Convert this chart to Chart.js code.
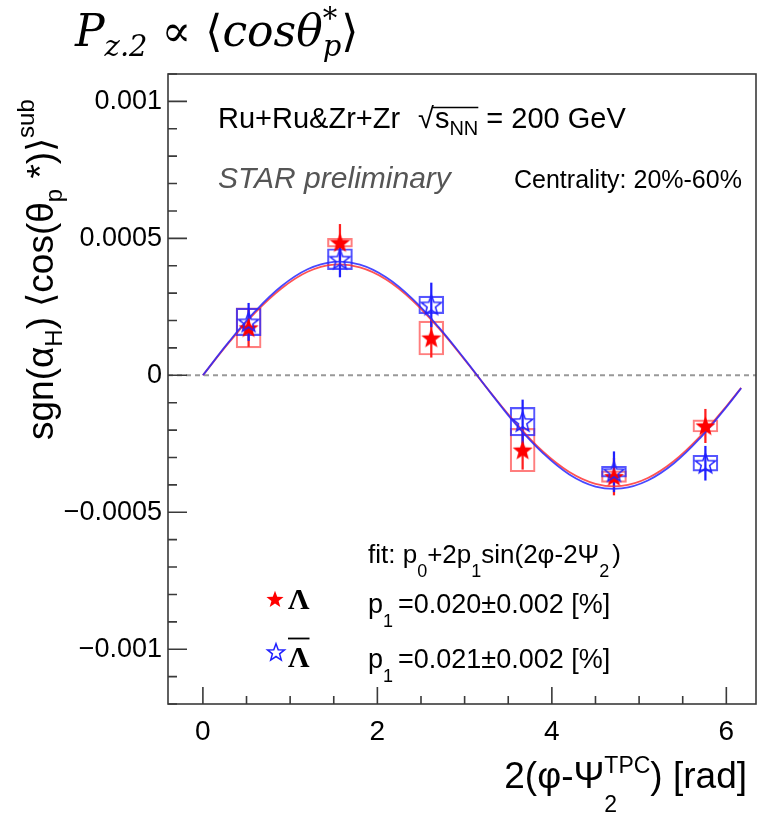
<!DOCTYPE html>
<html>
<head>
<meta charset="utf-8">
<script src="https://cdn.jsdelivr.net/npm/chart.js@4.4.1/dist/chart.umd.min.js"></script>
<style>
  html, body { margin: 0; padding: 0; background: #fff; }
  canvas { display: block; }
</style>
</head>
<body>
<canvas id="polChart" width="761" height="818"></canvas>
<script>
// bin centres, 2(phi - Psi2^TPC) [rad]
const binX = [0.524, 1.571, 2.618, 3.665, 4.712, 5.760];

// Lambda (red filled stars)
const lamY    = [0.000173, 0.000484, 0.000136, -0.000273, -0.000370, -0.000185];
const lamStat = [0.000068, 0.000067, 0.000070, 0.000070, 0.000067, 0.000061];
const lamSys  = [0.000073, 0.000016, 0.000062, 0.000079, 0.000021, 0.000022];

// anti-Lambda (blue open stars)
const alamY    = [0.000195, 0.000424, 0.000257, -0.000169, -0.000352, -0.000321];
const alamStat = [0.000068, 0.000065, 0.000080, 0.000079, 0.000073, 0.000062];
const alamSys  = [0.000050, 0.000038, 0.000032, 0.000052, 0.000020, 0.000029];

// fit curves
const fitX    = [0, 0.3, 0.6, 0.9, 1.2, 1.5, 1.8, 2.1, 2.4, 2.7, 3.0, 3.3, 3.6, 3.9, 4.2, 4.5, 4.8, 5.1, 5.4, 5.7, 6.0, 6.17];
const lamFit  = [0, 0.000120, 0.000229, 0.000317, 0.000378, 0.000404, 0.000394, 0.000350, 0.000274, 0.000173, 0.000057,
                 -0.000064, -0.000179, -0.000279, -0.000353, -0.000396, -0.000404, -0.000375, -0.000313, -0.000223, -0.000113, -0.000046];
const alamFit = [0, 0.000123, 0.000234, 0.000325, 0.000387, 0.000414, 0.000404, 0.000358, 0.000280, 0.000177, 0.000059,
                 -0.000065, -0.000184, -0.000285, -0.000362, -0.000406, -0.000413, -0.000384, -0.000321, -0.000229, -0.000116, -0.000047];

// axis ticks
const xTicks = [0, 2, 4, 6];
const yTicks = [-0.001, -0.0005, 0, 0.0005, 0.001];

const SANS = '"Liberation Sans", Arial, sans-serif';
const SERIF = '"Liberation Serif", "Times New Roman", serif';
const MATH = '"DejaVu Serif", serif';

function starImage(fill, stroke, r) {
  const c = document.createElement('canvas');
  c.width = c.height = Math.ceil(r * 2 + 4);
  const g = c.getContext('2d');
  const cx = c.width / 2, cy = c.height / 2 + r * 0.08;
  g.beginPath();
  for (let k = 0; k < 10; k++) {
    const rad = k % 2 ? r * 0.42 : r;
    const a = -Math.PI / 2 + k * Math.PI / 5;
    g.lineTo(cx + rad * Math.cos(a), cy + rad * Math.sin(a));
  }
  g.closePath();
  if (fill) { g.fillStyle = fill; g.fill(); }
  if (stroke) { g.strokeStyle = stroke; g.lineWidth = 1.5; g.stroke(); }
  return c;
}
const redStar = starImage('#ff0000', null, 10.5);
const blueStar = starImage(null, '#2020ff', 10.5);
const redStarSmall = starImage('#ff0000', null, 9);
const blueStarSmall = starImage(null, '#2020ff', 9);

function pts(xs, ys) { return xs.map((x, i) => ({ x: x, y: ys[i] })); }
function range(xs, ys, es) { return xs.map((x, i) => ({ x: x, y: [ys[i] - es[i], ys[i] + es[i]] })); }

// rich text: segments drawn one after another, "keep" stacks the next segment on top
function fontOf(s) { return (s.italic ? 'italic ' : '') + (s.bold ? 'bold ' : '') + s.size + 'px ' + (s.family || SANS); }
function richWidth(ctx, segs) {
  let w = 0, held = 0;
  segs.forEach(s => {
    ctx.font = fontOf(s);
    const sw = ctx.measureText(s.t).width + (s.gap || 0);
    if (s.keep) { held = sw; return; }
    w += Math.max(sw, held); held = 0;
  });
  return w;
}
function drawRich(ctx, segs, x, y, align) {
  if (align === 'right') x -= richWidth(ctx, segs);
  if (align === 'center') x -= richWidth(ctx, segs) / 2;
  let held = 0;
  ctx.textAlign = 'left';
  ctx.textBaseline = 'alphabetic';
  segs.forEach(s => {
    ctx.font = fontOf(s);
    ctx.fillStyle = s.color || '#000';
    ctx.fillText(s.t, x, y + (s.dy || 0));
    const sw = ctx.measureText(s.t).width + (s.gap || 0);
    if (s.keep) { held = sw; return; }
    x += Math.max(sw, held); held = 0;
  });
  return x;
}

const decor = {
  id: 'decor',
  beforeDatasetsDraw(chart) {
    const { ctx, chartArea: a, scales: { y } } = chart;
    const y0 = y.getPixelForValue(0);
    ctx.save();
    ctx.strokeStyle = '#999';
    ctx.lineWidth = 2;
    ctx.setLineDash([5, 4]);
    ctx.beginPath();
    ctx.moveTo(a.left, y0);
    ctx.lineTo(a.right, y0);
    ctx.stroke();
    ctx.restore();
  },
  afterDatasetsDraw(chart) {
    const { ctx, chartArea: a, scales: { x, y } } = chart;
    ctx.save();
    ctx.strokeStyle = '#3a3a3a';
    ctx.lineWidth = 1.6;
    ctx.strokeRect(a.left, a.top, a.right - a.left, a.bottom - a.top);
    ctx.beginPath();
    // x ticks: major every 2, minor every 0.5
    for (let v = 0; v <= x.max; v += 0.5) {
      const px = x.getPixelForValue(v);
      const len = xTicks.includes(v) ? 17 : 8;
      ctx.moveTo(px, a.bottom);
      ctx.lineTo(px, a.bottom - len);
    }
    // y ticks: major every 0.0005, minor every 0.0001
    for (let k = -12; k <= 11; k++) {
      const py = y.getPixelForValue(k * 0.0001);
      const len = k % 5 === 0 ? 19 : 9;
      ctx.moveTo(a.left, py);
      ctx.lineTo(a.left + len, py);
    }
    ctx.stroke();
    ctx.restore();
  },
  afterDraw(chart) {
    const ctx = chart.ctx;
    ctx.save();

    // heading
    drawRich(ctx, [
      { t: 'P', size: 44, italic: true, family: MATH },
      { t: 'z.2', size: 29, italic: true, family: MATH, dy: 10 },
      { t: ' \u221D ', size: 44, family: MATH },
      { t: '\u27E8', size: 44, family: MATH },
      { t: 'cos\u03B8', size: 44, italic: true, family: MATH },
      { t: '*', size: 29, family: MATH, dy: -18, keep: true },
      { t: 'p', size: 29, italic: true, family: MATH, dy: 10 },
      { t: '\u27E9', size: 44, family: MATH }
    ], 75, 46);

    // y title
    ctx.save();
    ctx.translate(53, 440);
    ctx.rotate(-Math.PI / 2);
    drawRich(ctx, [
      { t: 'sgn(\u03B1', size: 37 },
      { t: 'H', size: 24, dy: 9 },
      { t: ') \u27E8cos(\u03B8', size: 37 },
      { t: 'p', size: 24, dy: 9 },
      { t: ' *)\u27E9', size: 37 },
      { t: 'sub', size: 24, dy: -19 }
    ], 0, 0);
    ctx.restore();

    // x title
    drawRich(ctx, [
      { t: '2(\u03C6-\u03A8', size: 37 },
      { t: 'TPC', size: 23, dy: -15, keep: true },
      { t: '2', size: 23, dy: 24 },
      { t: ') [rad]', size: 37 }
    ], 747, 788, 'right');

    // system label
    const px = drawRich(ctx, [{ t: 'Ru+Ru&Zr+Zr', size: 29 }], 218, 128);
    const sq = drawRich(ctx, [{ t: '\u221A', size: 29 }], Math.max(px + 12, 418), 128);
    const end = drawRich(ctx, [{ t: 's', size: 29 }, { t: 'NN', size: 20, dy: 7 }], sq + 1, 128);
    ctx.strokeStyle = '#000';
    ctx.lineWidth = 1.4;
    ctx.beginPath();
    ctx.moveTo(sq - 1, 107.5);
    ctx.lineTo(end, 107.5);
    ctx.stroke();
    drawRich(ctx, [{ t: '= 200 GeV', size: 29 }], end + 8, 128);

    drawRich(ctx, [{ t: 'STAR preliminary', size: 30, italic: true, color: '#555' }], 218, 188);
    drawRich(ctx, [{ t: 'Centrality: 20%-60%', size: 25 }], 514, 188);

    // fit legend
    drawRich(ctx, [
      { t: 'fit: p', size: 26 }, { t: '0', size: 18, dy: 14 },
      { t: '+2p', size: 26 }, { t: '1', size: 18, dy: 14 },
      { t: 'sin(2\u03C6-2\u03A8', size: 26 }, { t: '2', size: 18, dy: 14, gap: 3 },
      { t: ')', size: 26 }
    ], 368, 563);
    drawRich(ctx, [{ t: 'p', size: 27 }, { t: '1', size: 18, dy: 14, gap: 5 }, { t: '=0.020\u00B10.002 [%]', size: 27 }], 368, 613);
    drawRich(ctx, [{ t: 'p', size: 27 }, { t: '1', size: 18, dy: 14, gap: 5 }, { t: '=0.021\u00B10.002 [%]', size: 27 }], 368, 668);

    ctx.drawImage(redStarSmall, 275 - redStarSmall.width / 2, 599 - redStarSmall.height / 2);
    ctx.drawImage(blueStarSmall, 276 - blueStarSmall.width / 2, 652 - blueStarSmall.height / 2);
    drawRich(ctx, [{ t: '\u039B', size: 30, bold: true, family: SERIF }], 288, 609);
    const lw = drawRich(ctx, [{ t: '\u039B', size: 30, bold: true, family: SERIF }], 288, 667);
    ctx.strokeStyle = '#000';
    ctx.lineWidth = 1.8;
    ctx.beginPath();
    ctx.moveTo(288, 638.5);
    ctx.lineTo(lw, 638.5);
    ctx.stroke();

    ctx.restore();
  }
};

new Chart(document.getElementById('polChart'), {
  type: 'scatter',
  data: {
    datasets: [
      { label: 'anti-Lambda', data: pts(binX, alamY), pointStyle: blueStar, order: 0 },
      { label: 'Lambda', data: pts(binX, lamY), pointStyle: redStar, order: 1 },
      { type: 'line', label: 'anti-Lambda fit', data: pts(fitX, alamFit), borderColor: 'rgba(40,40,255,0.85)',
        borderWidth: 1.8, pointRadius: 0, tension: 0.4, fill: false, order: 4 },
      { type: 'line', label: 'Lambda fit', data: pts(fitX, lamFit), borderColor: 'rgba(255,40,40,0.8)',
        borderWidth: 1.8, pointRadius: 0, tension: 0.4, fill: false, order: 5 },
      { type: 'bar', label: 'anti-Lambda stat', data: range(binX, alamY, alamStat), grouped: false,
        barThickness: 1.6, backgroundColor: '#2020ff', borderWidth: 0, order: 8 },
      { type: 'bar', label: 'Lambda stat', data: range(binX, lamY, lamStat), grouped: false,
        barThickness: 1.6, backgroundColor: '#ff2020', borderWidth: 0, order: 9 },
      { type: 'bar', label: 'anti-Lambda sys', data: range(binX, alamY, alamSys), grouped: false,
        barThickness: 25, backgroundColor: 'rgba(0,0,0,0)', borderColor: 'rgba(30,30,255,0.75)',
        borderWidth: 1.5, borderSkipped: false, order: 10 },
      { type: 'bar', label: 'Lambda sys', data: range(binX, lamY, lamSys), grouped: false,
        barThickness: 25, backgroundColor: 'rgba(0,0,0,0)', borderColor: 'rgba(255,40,40,0.6)',
        borderWidth: 1.5, borderSkipped: false, order: 11 }
    ]
  },
  options: {
    responsive: false,
    animation: false,
    devicePixelRatio: 1,
    layout: { padding: { top: 74, right: 2, left: 0, bottom: 0 } },
    plugins: { legend: { display: false }, tooltip: { enabled: false } },
    scales: {
      x: {
        type: 'linear', min: -0.4, max: 6.34, offset: false,
        grid: { display: false }, border: { display: false },
        afterBuildTicks: s => { s.ticks = xTicks.map(v => ({ value: v })); },
        afterFit: s => { s.height = 114; },
        ticks: { font: { family: SANS, size: 28 }, color: '#000', padding: 3, maxRotation: 0,
                 callback: v => String(v) }
      },
      y: {
        type: 'linear', min: -0.0012, max: 0.0011,
        grid: { display: false }, border: { display: false },
        afterBuildTicks: s => { s.ticks = yTicks.map(v => ({ value: v })); },
        afterFit: s => { s.width = 168; },
        ticks: { font: { family: SANS, size: 27 }, color: '#000', padding: -2,
                 callback: v => v === 0 ? '0' : (v < 0 ? '\u2212' : '') + String(Math.abs(v)) }
      }
    }
  },
  plugins: [decor]
});
</script>
</body>
</html>
